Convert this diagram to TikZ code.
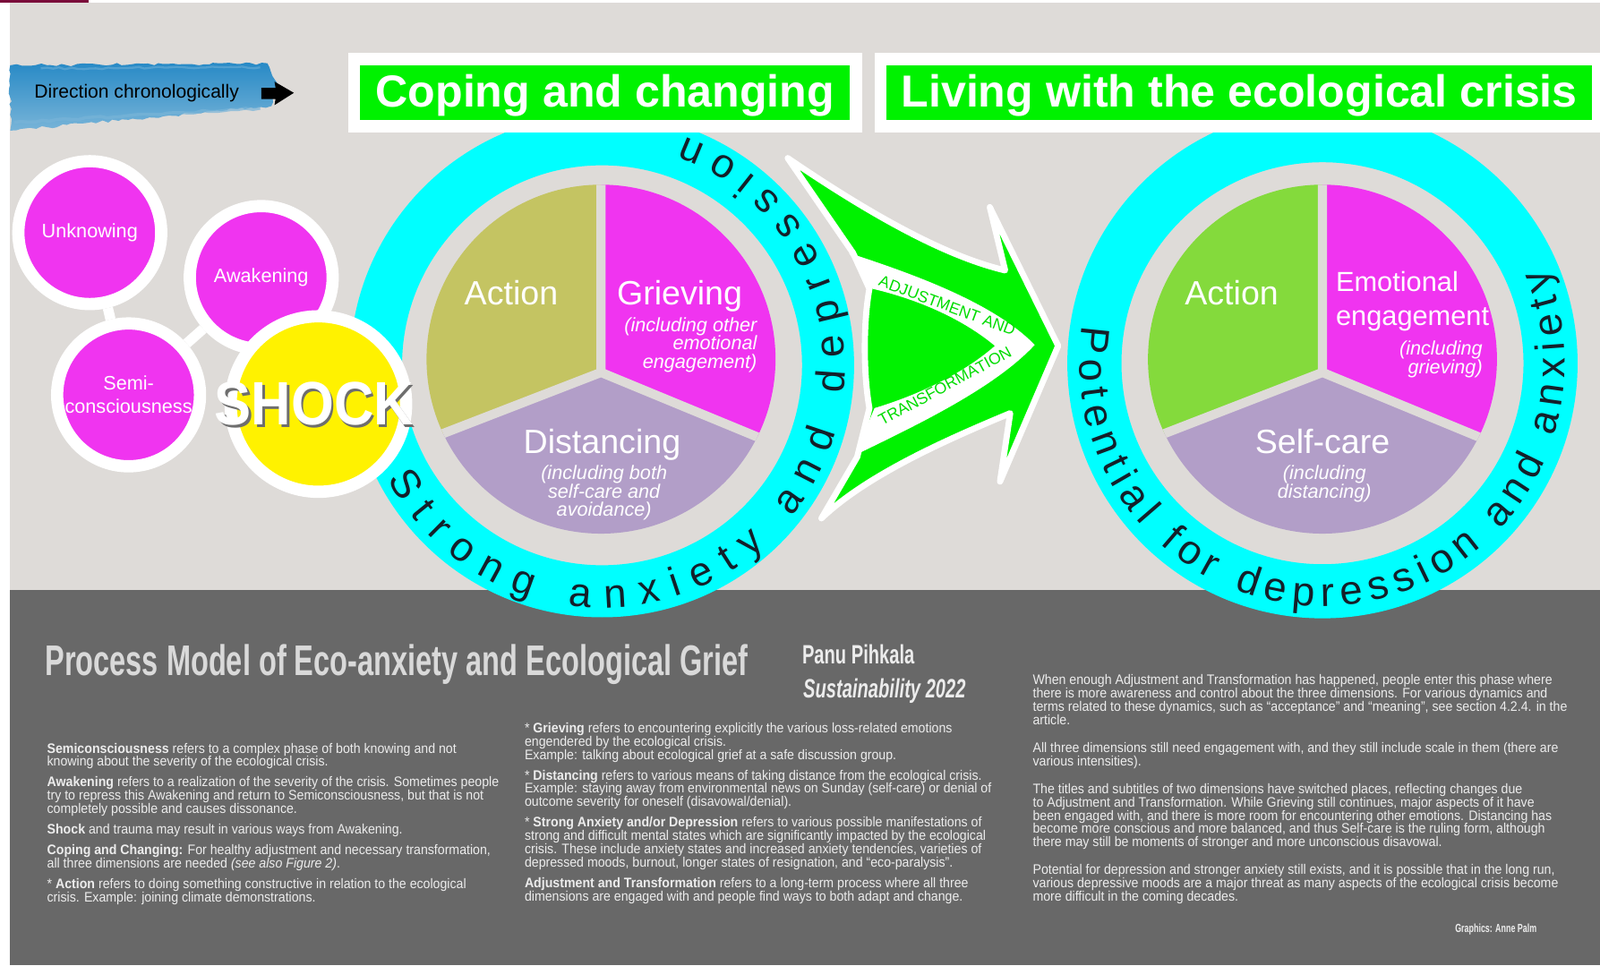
\documentclass[tikz,border=0pt]{standalone}
\usepackage{fontspec}
\setmainfont{Liberation Sans}
\newfontfamily\narrowfont[FakeStretch=0.92]{Liberation Sans}
\newfontfamily\slimfont[FakeStretch=0.68]{Liberation Sans}
\newfontfamily\shockfont[FakeStretch=0.9]{Liberation Sans}
\usetikzlibrary{decorations.text,decorations.pathmorphing}

\definecolor{wall}{RGB}{222,219,216}
\definecolor{slate}{RGB}{104,104,104}
\definecolor{ringcyan}{RGB}{0,255,255}
\definecolor{boxgreen}{RGB}{0,242,0}
\definecolor{bandgreen}{RGB}{0,220,0}
\definecolor{bubblepink}{RGB}{240,52,240}
\definecolor{olivepie}{RGB}{196,196,98}
\definecolor{lilac}{RGB}{178,158,200}
\definecolor{leafgreen}{RGB}{132,218,60}
\definecolor{brushblue}{RGB}{40,138,198}
\definecolor{brushlight}{RGB}{120,180,216}
\definecolor{topbar}{RGB}{122,10,58}
\definecolor{ringink}{RGB}{20,32,42}
\definecolor{notegray}{RGB}{236,236,236}
\definecolor{shockedge}{RGB}{110,110,110}

\newcommand\ringfont{\fontsize{40}{40}\selectfont}
\newcommand\bandfont{\fontsize{15.5}{15.5}\selectfont}

\begin{document}
\begin{tikzpicture}[x=1pt,y=1pt,
	bubble/.style={circle,fill=bubblepink,draw=white,line width=12pt,minimum size=140pt,inner sep=0pt,text=white,align=center,font=\fontsize{19}{23}\selectfont},
	link/.style={draw=white,line width=10pt},
	headline/.style={fill=boxgreen,draw=white,line width=12pt,minimum height=66pt,inner sep=0pt,text height=41pt,text depth=13pt,text=white,font=\bfseries\fontsize{44}{44}\selectfont},
	pielabel/.style={text=white,inner sep=0pt,font=\fontsize{33}{33}\selectfont},
	pienote/.style={text=white,inner sep=0pt,font=\itshape\fontsize{19}{18}\selectfont},
	gap/.style={draw=wall,line width=9pt},
	shocktext/.style={inner sep=0pt,font=\shockfont\bfseries\fontsize{60}{60}\selectfont},
	notes/.style={text=notegray,inner sep=0pt,align=left,anchor=north west,font=\narrowfont\fontsize{13.5}{13.1}\selectfont},
	ringtext/.style={decorate,decoration={text along path,text align={fit to path},text color=ringink,text={#1}}},
	bandtext/.style={decorate,decoration={text along path,text align=center,text color=bandgreen,text={#1}}}]
	\useasboundingbox (0,0) rectangle (1568,946);
	\fill[white] (0,0) rectangle (1568,946);
	\fill[topbar] (0,943) rectangle (87,946);
	\fill[wall] (10,368) rectangle (1568,943);
	\fill[slate] (10,0) rectangle (1568,368);

	\shade[top color=brushblue,bottom color=brushlight,decorate,decoration={random steps,segment length=5pt,amplitude=1.5pt}]
		(10,882) -- (262,884) -- (272,864) -- (266,842) -- (160,832) -- (10,818) -- cycle;
	\draw[brushlight,line width=3pt,opacity=0.7,decorate,decoration={random steps,segment length=7pt,amplitude=1pt}] (14,826) -- (150,834) -- (255,840);
	\draw[brushblue!70!white,line width=2pt,opacity=0.6,decorate,decoration={random steps,segment length=6pt,amplitude=1pt}] (40,879) -- (255,880);
	\node (direction) at (134,855)[font=\fontsize{18.5}{18.5}\selectfont,inner sep=0pt] {Direction chronologically};
	\fill (256,860) -- (270,860) -- (269,866) -- (288,855) -- (269,843) -- (270,849) -- (256,849) -- cycle;

	% rings
	\fill[ringcyan,even odd rule] (590,588) circle (247) (590,588) circle (196);
	\fill[ringcyan,even odd rule] (1296,590) circle (250) (1296,590) circle (197);

	\begin{scope}
	\clip (589,594) circle (171);
	\fill[olivepie] (589,581) -- (589,800) -- (279,800) -- (279,461) -- cycle;
	\fill[bubblepink] (589,581) -- (589,800) -- (899,800) -- (899,453) -- cycle;
	\fill[lilac] (589,581) -- (279,461) -- (279,380) -- (899,380) -- (899,453) -- cycle;
	\draw[gap] (589,800) -- (589,581) -- (279,461) (589,581) -- (899,453);
	\end{scope}
	\begin{scope}
	\clip (1296,594) circle (171);
	\fill[leafgreen] (1296,581) -- (1296,800) -- (986,800) -- (986,461) -- cycle;
	\fill[bubblepink] (1296,581) -- (1296,800) -- (1606,800) -- (1606,453) -- cycle;
	\fill[lilac] (1296,581) -- (986,461) -- (986,380) -- (1606,380) -- (1606,453) -- cycle;
	\draw[gap] (1296,800) -- (1296,581) -- (986,461) (1296,581) -- (1606,453);
	\end{scope}

	\node (action) at (501,647)[pielabel,anchor=base] {Action};
	\node (grieving) at (666,647)[pielabel,anchor=base] {Grieving};
	\node (grievenote) at (742,635)[pienote,align=right,anchor=north east] {(including other\\emotional\\engagement)};
	\node (distancing) at (590,502)[pielabel,anchor=base] {Distancing};
	\node (distnote) at (592,490)[pienote,align=center,anchor=north] {(including both\\self-care and\\avoidance)};

	\node (action2) at (1207,647)[pielabel,anchor=base] {Action};
	\node (emotional) at (1309,680)[pielabel,align=left,anchor=north west,font=\fontsize{27}{33}\selectfont] {Emotional\\engagement};
	\node (emonote) at (1453,612)[pienote,align=right,anchor=north east] {(including\\grieving)};
	\node (selfcare) at (1296,502)[pielabel,anchor=base] {Self-care};
	\node (selfnote) at (1298,490)[pienote,align=center,anchor=north] {(including\\distancing)};

	% adjustment arrow
	\filldraw[fill=boxgreen,draw=white,line width=6pt,line join=round]
		(772,791) .. controls (860,731) and (930,694) .. (985,681)
		-- (970,743) -- (1037,607) -- (980,474) -- (990,541)
		.. controls (930,516) and (850,481) .. (805,438)
		-- (840,498) -- (852,546) .. controls (846,580) and (846,630) .. (852,663)
		-- (836,698) -- cycle;
	\fill[white] (832,698) .. controls (900,676) and (975,648) .. (1014,608)
		.. controls (975,566) and (900,530) .. (838,500) -- (857,546)
		.. controls (910,562) and (950,585) .. (975,607)
		.. controls (950,628) and (910,650) .. (855,663) -- cycle;
	\path[bandtext={|\bandfont|ADJUSTMENT AND}] (858,667) -- (995,616);
	\path[bandtext={|\bandfont|TRANSFORMATION}] (862,527) -- (995,599);

	% headings
	\node (coping) at (593,855)[headline,minimum width=492pt] {Coping and changing};
	\node (living) at (1214.5,855)[headline,minimum width=703pt] {Living with the ecological crisis};

	\path[ringtext={|\ringfont|Strong anxiety and depression}] (590,588) ++(208:238) arc[start angle=208,end angle=430,radius=238];
	\path[ringtext={|\ringfont|Potential for depression and anxiety}] (1296,590) ++(171:238) arc[start angle=171,end angle=383,radius=238];

	% phases before coping
	\node (unknowing) at (88,718)[bubble] {Unknowing};
	\node (semi) at (126,559)[bubble] {Semi-\\consciousness};
	\node (awakening) at (256,674)[bubble] {Awakening};
	\draw[link] (unknowing) -- (semi);
	\draw[link] (semi) -- (awakening);
	\node (shock) at (312,550)[circle,fill=yellow,draw=white,line width=12pt,minimum size=172pt] {};
	\node (shockshadow) at (310,548)[shocktext,text=shockedge] {SHOCK};
	\node (shocklabel) at (308,550)[shocktext,text=white] {SHOCK};

	% notes
	\node (title) at (44,284)[anchor=base west,inner sep=0pt,text=notegray!92!black,font=\slimfont\bfseries\fontsize{42}{42}\selectfont] {Process Model of Eco-anxiety and Ecological Grief};
	\node (author) at (786,295)[anchor=base west,inner sep=0pt,text=notegray,font=\slimfont\bfseries\fontsize{26}{26}\selectfont] {Panu Pihkala};
	\node (journal) at (787,262)[anchor=base west,inner sep=0pt,text=notegray,font=\slimfont\bfseries\itshape\fontsize{26}{26}\selectfont] {Sustainability 2022};

	\node (notesleft) at (46,218)[notes] {\textbf{Semiconsciousness} refers to a complex phase of both knowing and not\\
knowing about the severity of the ecological crisis.\\[7pt]
\textbf{Awakening} refers to a realization of the severity of the crisis. Sometimes people\\
try to repress this Awakening and return to Semiconsciousness, but that is not\\
completely possible and causes dissonance.\\[7pt]
\textbf{Shock} and trauma may result in various ways from Awakening.\\[7pt]
\textbf{Coping and Changing:} For healthy adjustment and necessary transformation,\\
all three dimensions are needed \textit{(see also Figure 2)}.\\[7pt]
* \textbf{Action} refers to doing something constructive in relation to the ecological\\
crisis. Example: joining climate demonstrations.};

	\node (notesmid) at (514,238)[notes] {* \textbf{Grieving} refers to encountering explicitly the various loss-related emotions\\
engendered by the ecological crisis.\\
Example: talking about ecological grief at a safe discussion group.\\[7pt]
* \textbf{Distancing} refers to various means of taking distance from the ecological crisis.\\
Example: staying away from environmental news on Sunday (self-care) or denial of\\
outcome severity for oneself (disavowal/denial).\\[7pt]
* \textbf{Strong Anxiety and/or Depression} refers to various possible manifestations of\\
strong and difficult mental states which are significantly impacted by the ecological\\
crisis. These include anxiety states and increased anxiety tendencies, varieties of\\
depressed moods, burnout, longer states of resignation, and “eco-paralysis”.\\[7pt]
\textbf{Adjustment and Transformation} refers to a long-term process where all three\\
dimensions are engaged with and people find ways to both adapt and change.};

	\node (notesright) at (1012,285)[notes] {When enough Adjustment and Transformation has happened, people enter this phase where\\
there is more awareness and control about the three dimensions. For various dynamics and\\
terms related to these dynamics, such as “acceptance” and “meaning”, see section 4.2.4. in the\\
article.\\[14pt]
All three dimensions still need engagement with, and they still include scale in them (there are\\
various intensities).\\[14pt]
The titles and subtitles of two dimensions have switched places, reflecting changes due\\
to Adjustment and Transformation. While Grieving still continues, major aspects of it have\\
been engaged with, and there is more room for encountering other emotions. Distancing has\\
become more conscious and more balanced, and thus Self-care is the ruling form, although\\
there may still be moments of stronger and more unconscious disavowal.\\[14pt]
Potential for depression and stronger anxiety still exists, and it is possible that in the long run,\\
various depressive moods are a major threat as many aspects of the ecological crisis become\\
more difficult in the coming decades.};

	\node (credit) at (1466,35)[inner sep=0pt,text=notegray,font=\slimfont\bfseries\fontsize{11.5}{11.5}\selectfont] {Graphics: Anne Palm};
\end{tikzpicture}
\end{document}
